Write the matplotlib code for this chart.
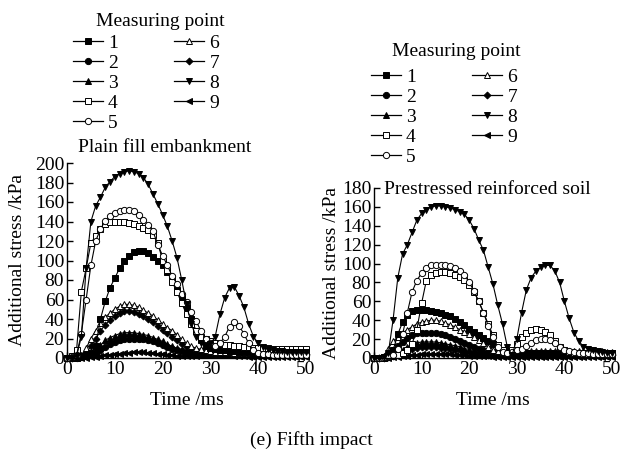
import matplotlib
matplotlib.use("Agg")
import matplotlib.pyplot as plt
from matplotlib.lines import Line2D

plt.rcParams['font.family'] = ['Liberation Serif', 'DejaVu Serif']
plt.rcParams['mathtext.fontset'] = 'stix'

time_ms = list(range(0, 51))
series_labels = ['1', '2', '3', '4', '5', '6', '7', '8', '9']

# ---- Plain fill embankment ----
plain = {
    '1': [0, 0, 1, 2, 3, 5, 12, 40, 58, 72, 82, 92, 100, 105, 109, 110, 110, 108, 104, 99,
          95, 88, 80, 70, 62, 52, 40, 28, 18, 12, 10, 9, 8, 8, 7, 7, 6, 6, 6, 5,
          5, 5, 5, 5, 5, 5, 5, 5, 5, 5, 5],
    '2': [0, 0, 0, 1, 2, 3, 5, 8, 11, 14, 16, 18, 19, 20, 20, 20, 19, 18, 17, 15,
          13, 11, 9, 8, 7, 6, 5, 5, 6, 8, 9, 10, 10, 10, 9, 8, 6, 5, 4, 4,
          3, 3, 3, 3, 3, 3, 3, 3, 3, 3, 3],
    '3': [0, 0, 0, 1, 2, 4, 8, 13, 18, 21, 23, 25, 26, 26, 26, 25, 24, 23, 21, 19,
          17, 14, 12, 10, 8, 6, 5, 4, 4, 4, 4, 4, 4, 4, 4, 4, 3, 3, 3, 3,
          3, 3, 3, 3, 3, 3, 3, 3, 3, 3, 3],
    '4': [0, 2, 8, 68, 92, 118, 125, 132, 137, 140, 140, 140, 139, 138, 137, 135, 133, 131, 126, 118,
          100, 90, 78, 68, 56, 45, 35, 28, 22, 19, 17, 15, 14, 13, 13, 12, 12, 11, 11, 10,
          10, 10, 10, 9, 9, 9, 9, 9, 9, 9, 9],
    '5': [0, 1, 3, 25, 60, 95, 120, 132, 141, 146, 149, 151, 152, 152, 151, 147, 142, 136, 130, 116,
          105, 95, 84, 76, 66, 57, 47, 38, 28, 20, 15, 12, 15, 22, 32, 37, 33, 25, 15, 8,
          5, 4, 4, 3, 3, 3, 3, 3, 3, 3, 3],
    '6': [0, 0, 1, 3, 10, 20, 28, 36, 42, 46, 50, 53, 55, 55, 54, 52, 49, 46, 43, 39,
          35, 31, 28, 24, 19, 15, 12, 10, 9, 8, 7, 6, 6, 6, 6, 5, 5, 5, 5, 5,
          5, 5, 5, 5, 5, 5, 5, 5, 5, 5, 5],
    '7': [0, 0, 1, 2, 5, 12, 20, 28, 34, 39, 43, 46, 48, 48, 47, 45, 43, 40, 37, 33,
          29, 26, 22, 18, 14, 11, 9, 8, 7, 7, 7, 6, 6, 6, 5, 5, 5, 5, 5, 4,
          4, 4, 4, 4, 4, 4, 4, 4, 4, 4, 4],
    '8': [0, 0, 2, 22, 92, 140, 156, 165, 175, 181, 186, 189, 191, 192, 191, 189, 185, 178, 168, 158,
          147, 135, 120, 103, 80, 55, 35, 22, 15, 12, 14, 22, 45, 62, 72, 73, 64, 52, 35, 22,
          15, 11, 9, 8, 7, 7, 6, 6, 6, 6, 6],
    '9': [0, 0, 0, 0, 0, 1, 1, 2, 3, 3, 4, 4, 5, 5, 6, 6, 6, 5, 5, 4,
          4, 3, 3, 2, 2, 2, 2, 2, 3, 3, 4, 4, 4, 3, 3, 2, 2, 2, 1, 1,
          1, 1, 1, 1, 1, 1, 1, 1, 1, 1, 1],
}

# ---- Prestressed reinforced soil ----
prestressed = {
    '1': [0, 0, 1, 2, 8, 25, 38, 46, 50, 51, 51, 51, 50, 49, 48, 46, 44, 41, 38, 35,
          31, 28, 24, 21, 18, 15, 12, 9, 7, 5, 5, 5, 5, 5, 5, 5, 5, 5, 5, 5,
          5, 5, 5, 5, 5, 5, 5, 5, 5, 5, 5],
    '2': [0, 0, 1, 3, 8, 13, 17, 21, 24, 26, 27, 27, 27, 26, 25, 24, 22, 20, 18, 16,
          14, 12, 10, 8, 6, 5, 4, 4, 4, 4, 4, 4, 5, 5, 5, 5, 5, 5, 4, 4,
          4, 4, 4, 4, 4, 4, 4, 4, 4, 4, 4],
    '3': [0, 0, 0, 1, 3, 6, 9, 12, 14, 16, 17, 17, 17, 17, 16, 15, 14, 13, 12, 10,
          9, 8, 6, 5, 4, 3, 3, 3, 3, 3, 3, 3, 3, 3, 3, 3, 3, 3, 3, 3,
          3, 3, 3, 3, 3, 3, 3, 3, 3, 3, 3],
    '4': [0, 0, 0, 1, 2, 3, 5, 8, 15, 30, 58, 82, 88, 90, 91, 91, 90, 88, 86, 83,
          77, 70, 60, 48, 36, 24, 14, 8, 5, 8, 15, 22, 27, 30, 31, 30, 28, 24, 18, 12,
          8, 6, 5, 5, 4, 4, 4, 4, 4, 4, 4],
    '5': [0, 0, 1, 2, 3, 10, 25, 48, 70, 82, 90, 95, 98, 99, 99, 98, 97, 95, 92, 88,
          80, 71, 60, 48, 34, 22, 12, 6, 5, 6, 8, 10, 13, 16, 19, 20, 20, 19, 16, 12,
          9, 7, 6, 5, 5, 5, 4, 4, 4, 4, 4],
    '6': [0, 0, 2, 10, 18, 22, 26, 30, 33, 36, 38, 39, 40, 40, 39, 37, 35, 33, 30, 28,
          25, 22, 19, 16, 12, 9, 7, 6, 5, 5, 6, 6, 6, 7, 7, 7, 7, 7, 7, 7,
          7, 7, 7, 7, 7, 7, 7, 7, 7, 6, 6],
    '7': [0, 0, 0, 1, 2, 4, 6, 8, 10, 11, 12, 12, 12, 12, 11, 11, 10, 9, 8, 7,
          6, 5, 4, 4, 3, 3, 3, 3, 3, 3, 3, 3, 3, 3, 3, 3, 3, 3, 3, 3,
          3, 3, 3, 3, 3, 3, 3, 3, 3, 3, 3],
    '8': [0, 0, 1, 5, 40, 85, 110, 120, 133, 146, 153, 157, 160, 161, 161, 160, 159, 157, 155, 152,
          146, 137, 125, 114, 96, 78, 56, 36, 12, 3, 20, 48, 72, 85, 92, 96, 98, 98, 92, 80,
          60, 42, 27, 18, 12, 10, 8, 7, 6, 5, 5],
    '9': [0, 0, 0, 0, 1, 1, 2, 2, 3, 3, 4, 4, 4, 4, 4, 4, 4, 3, 3, 3,
          2, 2, 2, 2, 2, 1, 1, 1, 1, 1, 1, 1, 1, 1, 1, 1, 1, 1, 1, 1,
          1, 1, 1, 1, 1, 1, 1, 1, 1, 1, 1],
}

styles = {
    '1': dict(marker='s', mfc='black'),
    '2': dict(marker='o', mfc='black'),
    '3': dict(marker='^', mfc='black'),
    '4': dict(marker='s', mfc='white'),
    '5': dict(marker='o', mfc='white'),
    '6': dict(marker='^', mfc='white'),
    '7': dict(marker='D', mfc='black'),
    '8': dict(marker='v', mfc='black'),
    '9': dict(marker='<', mfc='black'),
}
msizes = {'D': 3.5}

W, H = 622, 466
fig = plt.figure(figsize=(W / 100, H / 100), dpi=100)

def fx(px):
    return px / W

def fy(py):
    return 1 - py / H

ax1 = fig.add_axes([fx(67), fy(358), fx(306) - fx(67), fy(163) - fy(358)])
ax2 = fig.add_axes([fx(374), fy(358), fx(612) - fx(374), fy(188) - fy(358)])

fs = 14
draw_order = ['9', '7', '3', '2', '6', '1', '4', '5', '8']
for ax, data, ymax in [(ax1, plain, 200), (ax2, prestressed, 180)]:
    for k in draw_order:
        st = styles[k]
        ax.plot(time_ms, data[k], color='black', lw=0.8, marker=st['marker'],
                mfc=st['mfc'], mec='black', mew=0.7,
                ms=msizes.get(st['marker'], 4.5), clip_on=False)
    ax.set_xlim(0, 50)
    ax.set_ylim(0, ymax)
    ax.set_xticks([0, 10, 20, 30, 40, 50])
    ax.set_yticks(list(range(0, ymax + 1, 20)))
    ax.spines['top'].set_visible(False)
    ax.spines['right'].set_visible(False)
    for s in ['left', 'bottom']:
        ax.spines[s].set_linewidth(1.0)
    ax.tick_params(direction='in', length=4, width=1.0, labelsize=fs, pad=2)
    ax.set_xlabel('Time /ms', fontsize=fs, labelpad=10)
    ax.set_ylabel('Additional stress /kPa', fontsize=fs, labelpad=1)

ax1.yaxis.set_label_coords(-0.17, 0.5)

fig.text(fx(78), fy(147), 'Plain fill embankment', fontsize=fs, ha='left', va='center')
fig.text(fx(384), fy(190), 'Prestressed reinforced soil', fontsize=fs, ha='left', va='center')
fig.text(0.5, fy(440), '(e) Fifth impact', fontsize=fs, ha='center', va='center')

handles = []
for k in series_labels:
    st = styles[k]
    handles.append(Line2D([], [], color='black', lw=0.9, marker=st['marker'], mfc=st['mfc'],
                          mec='black', mew=0.7, ms=msizes.get(st['marker'], 4.5)))

for (x0, y0, tx, ty) in [(73, 34, 160, 22), (371, 68, 456, 52)]:
    fig.text(fx(tx), fy(ty), 'Measuring point', fontsize=fs, ha='center', va='center')
    fig.legend(handles, series_labels, ncol=2, loc='upper left',
               bbox_to_anchor=(fx(x0), fy(y0)), frameon=False, fontsize=fs,
               borderpad=0, borderaxespad=0, handlelength=1.55, handletextpad=0.25,
               columnspacing=2.9, labelspacing=0.13)

fig.savefig('out.png', dpi=100)
